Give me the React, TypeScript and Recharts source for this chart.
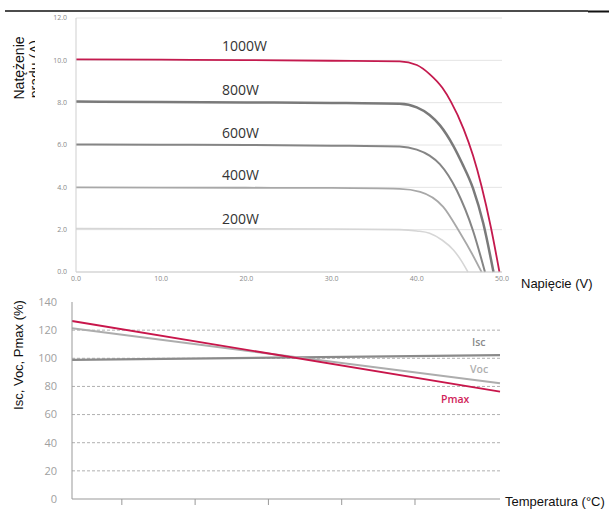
import { LineChart, Line, XAxis, YAxis, CartesianGrid, ReferenceLine } from "recharts";

// I-V curves (voltage V, current A) per irradiance
const v1000 = [0, 10, 20, 30, 38, 40, 41.5, 43, 44, 45.5, 46.6, 47.6, 48.7, 49.7];
const i1000 = [10.05, 10.03, 10.01, 9.98, 9.95, 9.78, 9.35, 8.7, 8.05, 6.75, 5.5, 4.05, 2.1, 0];
const v800 = [0, 10, 20, 30, 38, 40, 41.5, 42.7, 44.3, 45.3, 46.6, 47.8, 49];
const i800 = [8.05, 8.03, 8.01, 7.99, 7.95, 7.78, 7.42, 6.94, 5.95, 5.15, 3.95, 2.3, 0];
const v600 = [0, 10, 20, 30, 38, 40, 41.5, 42.7, 44.7, 46.6, 48];
const i600 = [6.02, 6.01, 6.0, 5.97, 5.93, 5.78, 5.5, 5.1, 3.85, 1.95, 0];
const v400 = [0, 10, 20, 30, 38, 40.4, 43.1, 45.1, 46.5, 47.6];
const i400 = [4.0, 3.99, 3.98, 3.97, 3.93, 3.79, 3.08, 1.83, 0.85, 0];
const v200 = [0, 10, 20, 30, 38, 40, 41.5, 43, 44.3, 45.2, 46];
const i200 = [2.05, 2.04, 2.04, 2.03, 2.0, 1.94, 1.83, 1.5, 1.04, 0.55, 0];

const voltTicks = [0, 10, 20, 30, 40, 50];
const ampTicks = [0, 2, 4, 6, 8, 10, 12];

// temperature coefficients (% of STC value)
const tempEnds = [-42, 104];
const iscPct = [98.8, 102.2];
const vocPct = [121.3, 82.2];
const pmaxPct = [126.5, 76.3];
const tempTicks = [-25, 0, 25, 50, 75];
const pctTicks = [0, 20, 40, 60, 80, 100, 120, 140];
const pctGrid = [20, 40, 60, 80, 100, 120];

const zip = (xs: number[], ys: number[], xk: string, yk: string) =>
  xs.map((x, i) => ({ [xk]: x, [yk]: ys[i] }));

const curves = [
  { name: "1000W", v: v1000, i: i1000, color: "#c41a4e", width: 1.8 },
  { name: "800W", v: v800, i: i800, color: "#7a7a7a", width: 2.5 },
  { name: "600W", v: v600, i: i600, color: "#858585", width: 2 },
  { name: "400W", v: v400, i: i400, color: "#a8a8a8", width: 1.8 },
  { name: "200W", v: v200, i: i200, color: "#d6d6d6", width: 1.6 },
];

const curveLabels = [
  { text: "1000W", y: 46 },
  { text: "800W", y: 90 },
  { text: "600W", y: 133 },
  { text: "400W", y: 175 },
  { text: "200W", y: 219 },
];

const tempSeries = [
  { name: "Isc", vals: iscPct, color: "#8a8a8a", width: 2.2 },
  { name: "Voc", vals: vocPct, color: "#adadad", width: 2 },
  { name: "Pmax", vals: pmaxPct, color: "#c8164b", width: 1.8 },
];

const tickFont = { fontFamily: "Open Sans", fontSize: 7, fill: "#8a8a8a" };

export default function App() {
  return (
    <div style={{ position: "relative", width: 609, height: 511, background: "#fff", overflow: "hidden" }}>
      <style>{"body{margin:0}"}</style>

      <div style={{ position: "absolute", left: 0, top: 0 }}>
        <LineChart width={609} height={290} margin={{ top: 18, right: 107, bottom: 4, left: 36 }}>
          <CartesianGrid vertical={false} stroke="#e4e4e4" />
          <XAxis
            type="number"
            dataKey="v"
            domain={[0, 50]}
            ticks={voltTicks}
            tickFormatter={(t: number) => t.toFixed(1)}
            tick={tickFont}
            tickLine={false}
            tickSize={2}
            tickMargin={2}
            height={14}
            stroke="#cfcfcf"
            allowDuplicatedCategory={false}
          />
          <YAxis
            type="number"
            domain={[0, 12]}
            ticks={ampTicks}
            tickFormatter={(t: number) => t.toFixed(1)}
            tick={tickFont}
            tickLine={false}
            tickMargin={3}
            width={40}
            stroke="#cfcfcf"
          />
          {curves
            .slice()
            .reverse()
            .map((c) => (
              <Line
                key={c.name}
                data={zip(c.v, c.i, "v", "i")}
                dataKey="i"
                type="monotone"
                stroke={c.color}
                strokeWidth={c.width}
                dot={false}
                isAnimationActive={false}
              />
            ))}
        </LineChart>
      </div>

      <div style={{ position: "absolute", left: 0, top: 290 }}>
        <LineChart width={609} height={221} margin={{ top: 12, right: 109, bottom: 0, left: 32 }}>
          {pctGrid.map((p) => (
            <ReferenceLine key={p} y={p} stroke="#b0b0b0" strokeDasharray="3 2" />
          ))}
          <XAxis
            type="number"
            dataKey="t"
            domain={tempEnds}
            ticks={tempTicks}
            tickFormatter={() => ""}
            tickSize={6}
            height={12}
            stroke="#999"
            allowDuplicatedCategory={false}
          />
          <YAxis
            type="number"
            domain={[0, 140]}
            ticks={pctTicks}
            tick={{ fontFamily: "Open Sans", fontSize: 11, fill: "#a0a0a0" }}
            tickLine={false}
            tickMargin={9}
            width={40}
            stroke="#999"
          />
          {tempSeries.map((s) => (
            <Line
              key={s.name}
              data={zip(tempEnds, s.vals, "t", "p")}
              dataKey="p"
              type="linear"
              stroke={s.color}
              strokeWidth={s.width}
              dot={false}
              isAnimationActive={false}
            />
          ))}
        </LineChart>
      </div>

      <svg width={609} height={511} style={{ position: "absolute", left: 0, top: 0, pointerEvents: "none" }}>
        <defs>
          <clipPath id="ylab">
            <rect x={0} y={0} width={35} height={200} />
          </clipPath>
        </defs>
        <line x1={5} y1={11} x2={588} y2={11} stroke="#111" strokeWidth={1.5} />
        <line x1={588} y1={11.5} x2={609} y2={11.5} stroke="#111" strokeWidth={2} />

        <g clipPath="url(#ylab)" fontFamily="Liberation Sans, Arial" fontSize={14} fill="#111">
          <text transform="translate(23.5,68) rotate(-90)" textAnchor="middle">Natężenie</text>
          <text transform="translate(39.5,69) rotate(-90)" textAnchor="middle">prądu (A)</text>
        </g>
        <text x={521} y={288} fontFamily="Liberation Sans, Arial" fontSize={13} fill="#111">Napięcie (V)</text>

        {curveLabels.map((l) => (
          <text key={l.text} x={222} y={l.y + 5} fontFamily="Open Sans" fontSize={14} fill="#333">
            {l.text}
          </text>
        ))}

        <text transform="translate(23,355) rotate(-90)" textAnchor="middle" fontFamily="Liberation Sans, Arial" fontSize={13} fill="#111">
          Isc, Voc, Pmax (%)
        </text>
        <text x={505} y={506} fontFamily="Liberation Sans, Arial" fontSize={13} fill="#111">Temperatura (°C)</text>

        <g fontFamily="Open Sans" fontSize={10.5} fontWeight={600}>
          <text x={472} y={346} fill="#8a8a8a">Isc</text>
          <text x={470} y={373} fill="#b0b0b0">Voc</text>
          <text x={441} y={403} fill="#d0245a">Pmax</text>
        </g>
      </svg>
    </div>
  );
}
